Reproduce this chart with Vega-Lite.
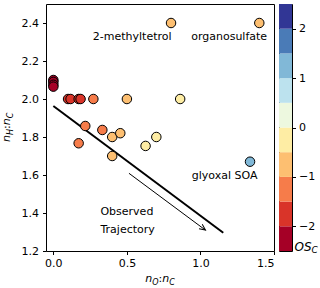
{
  "$schema": "https://vega.github.io/schema/vega-lite/v6.json",
  "padding": {"left": 0, "top": 3, "right": 0, "bottom": 0},
  "config": {
    "font": "DejaVu Sans",
    "view": {"stroke": "black", "strokeWidth": 1},
    "axis": {"grid": false, "domain": false, "tickColor": "black", "tickSize": 3.5, "labelColor": "black", "labelFont": "DejaVu Sans", "labelFontSize": 11, "title": null},
    "concat": {"spacing": 3}
  },
  "datasets": {
    "pts": [
      {"oc": 0.0, "hc": 2.10, "os": -2.10},
      {"oc": 0.0, "hc": 2.09, "os": -2.09},
      {"oc": 0.0, "hc": 2.075, "os": -2.075},
      {"oc": 0.0, "hc": 2.065, "os": -2.065},
      {"oc": 0.10, "hc": 2.0, "os": -1.80},
      {"oc": 0.117, "hc": 2.0, "os": -1.77},
      {"oc": 0.172, "hc": 2.0, "os": -1.66},
      {"oc": 0.185, "hc": 2.0, "os": -1.63},
      {"oc": 0.272, "hc": 2.0, "os": -1.46},
      {"oc": 0.50, "hc": 2.0, "os": -1.0},
      {"oc": 0.862, "hc": 2.0, "os": -0.28},
      {"oc": 0.217, "hc": 1.858, "os": -1.42},
      {"oc": 0.172, "hc": 1.767, "os": -1.42},
      {"oc": 0.333, "hc": 1.837, "os": -1.17},
      {"oc": 0.40, "hc": 1.80, "os": -1.0},
      {"oc": 0.455, "hc": 1.82, "os": -0.91},
      {"oc": 0.627, "hc": 1.753, "os": -0.45},
      {"oc": 0.70, "hc": 1.80, "os": -0.40},
      {"oc": 0.40, "hc": 1.70, "os": -0.90},
      {"oc": 0.80, "hc": 2.40, "os": -0.80},
      {"oc": 1.40, "hc": 2.40, "os": -0.70},
      {"oc": 1.337, "hc": 1.67, "os": 1.0}
    ],
    "traj": [{"x": 0.0, "y": 1.963, "x2": 1.155, "y2": 1.296}],
    "arrow": [{"x": 0.514, "y": 1.609, "x2": 1.034, "y2": 1.31}],
    "labels": [
      {"label": "2-methyltetrol", "oc": 0.536, "hc": 2.326},
      {"label": "organosulfate", "oc": 1.195, "hc": 2.326},
      {"label": "glyoxal SOA", "oc": 1.164, "hc": 1.595},
      {"label": "Observed", "oc": 0.50, "hc": 1.407},
      {"label": "Trajectory", "oc": 0.505, "hc": 1.309}
    ],
    "one": [{}],
    "bands": [
      {"lo": -2.5, "hi": -2.0, "mid": -2.25},
      {"lo": -2.0, "hi": -1.5, "mid": -1.75},
      {"lo": -1.5, "hi": -1.0, "mid": -1.25},
      {"lo": -1.0, "hi": -0.5, "mid": -0.75},
      {"lo": -0.5, "hi": 0.0, "mid": -0.25},
      {"lo": 0.0, "hi": 0.5, "mid": 0.25},
      {"lo": 0.5, "hi": 1.0, "mid": 0.75},
      {"lo": 1.0, "hi": 1.5, "mid": 1.25},
      {"lo": 1.5, "hi": 2.0, "mid": 1.75},
      {"lo": 2.0, "hi": 2.5, "mid": 2.25}
    ]
  },
  "hconcat": [
    {
      "width": 228,
      "height": 247,
      "layer": [
        {
          "data": {"name": "traj"},
          "mark": {"type": "rule", "strokeWidth": 2, "color": "black"},
          "encoding": {
            "x": {"field": "x", "type": "quantitative", "scale": {"domain": [-0.05, 1.5], "nice": false, "zero": false}, "axis": {"values": [0, 0.5, 1.0, 1.5], "format": ".1f", "labelPadding": 3}},
            "y": {"field": "y", "type": "quantitative", "scale": {"domain": [1.2, 2.5], "nice": false, "zero": false}, "axis": {"values": [1.2, 1.4, 1.6, 1.8, 2.0, 2.2, 2.4], "format": ".1f", "labelPadding": 4}},
            "x2": {"field": "x2"},
            "y2": {"field": "y2"}
          }
        },
        {
          "data": {"name": "arrow"},
          "mark": {"type": "rule", "strokeWidth": 1, "color": "black"},
          "encoding": {
            "x": {"field": "x", "type": "quantitative"},
            "y": {"field": "y", "type": "quantitative"},
            "x2": {"field": "x2"},
            "y2": {"field": "y2"}
          }
        },
        {
          "data": {"name": "arrow"},
          "mark": {"type": "point", "shape": "M-1,-0.45L0,0L-1,0.45", "filled": false, "stroke": "black", "strokeWidth": 1, "size": 144, "angle": 36.6, "opacity": 1},
          "encoding": {
            "x": {"field": "x2", "type": "quantitative"},
            "y": {"field": "y2", "type": "quantitative"}
          }
        },
        {
          "data": {"name": "pts"},
          "mark": {"type": "circle", "size": 90, "stroke": "black", "strokeWidth": 1, "opacity": 1},
          "encoding": {
            "x": {"field": "oc", "type": "quantitative"},
            "y": {"field": "hc", "type": "quantitative"},
            "color": {"field": "os", "type": "quantitative", "legend": null,
              "scale": {"type": "threshold", "domain": [-2, -1.5, -1, -0.5, 0, 0.5, 1, 1.5, 2],
                "range": ["#a50026", "#d93429", "#f67c4a", "#fdbf71", "#feeda4", "#edf8df", "#bce2ee", "#81b8d7", "#4a7bb7", "#313695"]}}
          }
        },
        {
          "data": {"name": "labels"},
          "mark": {"type": "text", "fontSize": 11, "font": "DejaVu Sans", "color": "black", "align": "center", "baseline": "middle"},
          "encoding": {
            "x": {"field": "oc", "type": "quantitative"},
            "y": {"field": "hc", "type": "quantitative"},
            "text": {"field": "label"}
          }
        },
        {
          "data": {"name": "one"},
          "mark": {"type": "text", "text": "n", "fontSize": 11, "fontStyle": "italic", "align": "left", "baseline": "alphabetic", "dx": -14.8, "dy": 31, "color": "black"},
          "encoding": {"x": {"datum": 0.725, "type": "quantitative"}, "y": {"datum": 1.2, "type": "quantitative"}}
        },
        {
          "data": {"name": "one"},
          "mark": {"type": "text", "text": "O", "fontSize": 8, "fontStyle": "italic", "align": "left", "baseline": "alphabetic", "dx": -7.8, "dy": 33.5, "color": "black"},
          "encoding": {"x": {"datum": 0.725, "type": "quantitative"}, "y": {"datum": 1.2, "type": "quantitative"}}
        },
        {
          "data": {"name": "one"},
          "mark": {"type": "text", "text": ":", "fontSize": 11, "align": "left", "baseline": "alphabetic", "dx": -1.4, "dy": 31, "color": "black"},
          "encoding": {"x": {"datum": 0.725, "type": "quantitative"}, "y": {"datum": 1.2, "type": "quantitative"}}
        },
        {
          "data": {"name": "one"},
          "mark": {"type": "text", "text": "n", "fontSize": 11, "fontStyle": "italic", "align": "left", "baseline": "alphabetic", "dx": 2.3, "dy": 31, "color": "black"},
          "encoding": {"x": {"datum": 0.725, "type": "quantitative"}, "y": {"datum": 1.2, "type": "quantitative"}}
        },
        {
          "data": {"name": "one"},
          "mark": {"type": "text", "text": "C", "fontSize": 8, "fontStyle": "italic", "align": "left", "baseline": "alphabetic", "dx": 9.3, "dy": 33.5, "color": "black"},
          "encoding": {"x": {"datum": 0.725, "type": "quantitative"}, "y": {"datum": 1.2, "type": "quantitative"}}
        },
        {
          "data": {"name": "one"},
          "mark": {"type": "text", "text": "n", "fontSize": 11, "fontStyle": "italic", "align": "left", "baseline": "alphabetic", "angle": 270, "dx": -14.6, "dy": -36, "color": "black"},
          "encoding": {"x": {"datum": -0.05, "type": "quantitative"}, "y": {"datum": 1.85, "type": "quantitative"}}
        },
        {
          "data": {"name": "one"},
          "mark": {"type": "text", "text": "H", "fontSize": 8, "fontStyle": "italic", "align": "left", "baseline": "alphabetic", "angle": 270, "dx": -7.6, "dy": -33.5, "color": "black"},
          "encoding": {"x": {"datum": -0.05, "type": "quantitative"}, "y": {"datum": 1.85, "type": "quantitative"}}
        },
        {
          "data": {"name": "one"},
          "mark": {"type": "text", "text": ":", "fontSize": 11, "align": "left", "baseline": "alphabetic", "angle": 270, "dx": -1.5, "dy": -36, "color": "black"},
          "encoding": {"x": {"datum": -0.05, "type": "quantitative"}, "y": {"datum": 1.85, "type": "quantitative"}}
        },
        {
          "data": {"name": "one"},
          "mark": {"type": "text", "text": "n", "fontSize": 11, "fontStyle": "italic", "align": "left", "baseline": "alphabetic", "angle": 270, "dx": 2.2, "dy": -36, "color": "black"},
          "encoding": {"x": {"datum": -0.05, "type": "quantitative"}, "y": {"datum": 1.85, "type": "quantitative"}}
        },
        {
          "data": {"name": "one"},
          "mark": {"type": "text", "text": "C", "fontSize": 8, "fontStyle": "italic", "align": "left", "baseline": "alphabetic", "angle": 270, "dx": 9.2, "dy": -33.5, "color": "black"},
          "encoding": {"x": {"datum": -0.05, "type": "quantitative"}, "y": {"datum": 1.85, "type": "quantitative"}}
        }
      ]
    },
    {
      "width": 13,
      "height": 247,
      "layer": [
        {
          "data": {"name": "bands"},
          "mark": {"type": "rect", "opacity": 1},
          "encoding": {
            "x": {"datum": 0, "type": "quantitative", "scale": {"domain": [0, 1], "nice": false, "zero": false}, "axis": null},
            "x2": {"datum": 1},
            "y": {"field": "lo", "type": "quantitative", "scale": {"domain": [-2.5, 2.5], "nice": false, "zero": false},
              "axis": {"orient": "right", "values": [-2, -1, 0, 1, 2], "format": "d", "labelPadding": 3, "labelExpr": "replace(datum.label, '-', '\u2212')"}},
            "y2": {"field": "hi"},
            "color": {"field": "mid", "type": "quantitative", "legend": null,
              "scale": {"type": "threshold", "domain": [-2, -1.5, -1, -0.5, 0, 0.5, 1, 1.5, 2],
                "range": ["#a50026", "#d93429", "#f67c4a", "#fdbf71", "#feeda4", "#edf8df", "#bce2ee", "#81b8d7", "#4a7bb7", "#313695"]}}
          }
        },
        {
          "data": {"name": "one"},
          "mark": {"type": "text", "text": "OS", "fontSize": 12, "fontStyle": "italic", "align": "left", "baseline": "middle", "dx": 2.5, "dy": 1, "color": "black"},
          "encoding": {"x": {"datum": 1, "type": "quantitative"}, "y": {"datum": -2.4, "type": "quantitative"}}
        },
        {
          "data": {"name": "one"},
          "mark": {"type": "text", "text": "C", "fontSize": 9, "fontStyle": "italic", "align": "left", "baseline": "middle", "dx": 19.5, "dy": 4, "color": "black"},
          "encoding": {"x": {"datum": 1, "type": "quantitative"}, "y": {"datum": -2.4, "type": "quantitative"}}
        }
      ]
    }
  ]
}
